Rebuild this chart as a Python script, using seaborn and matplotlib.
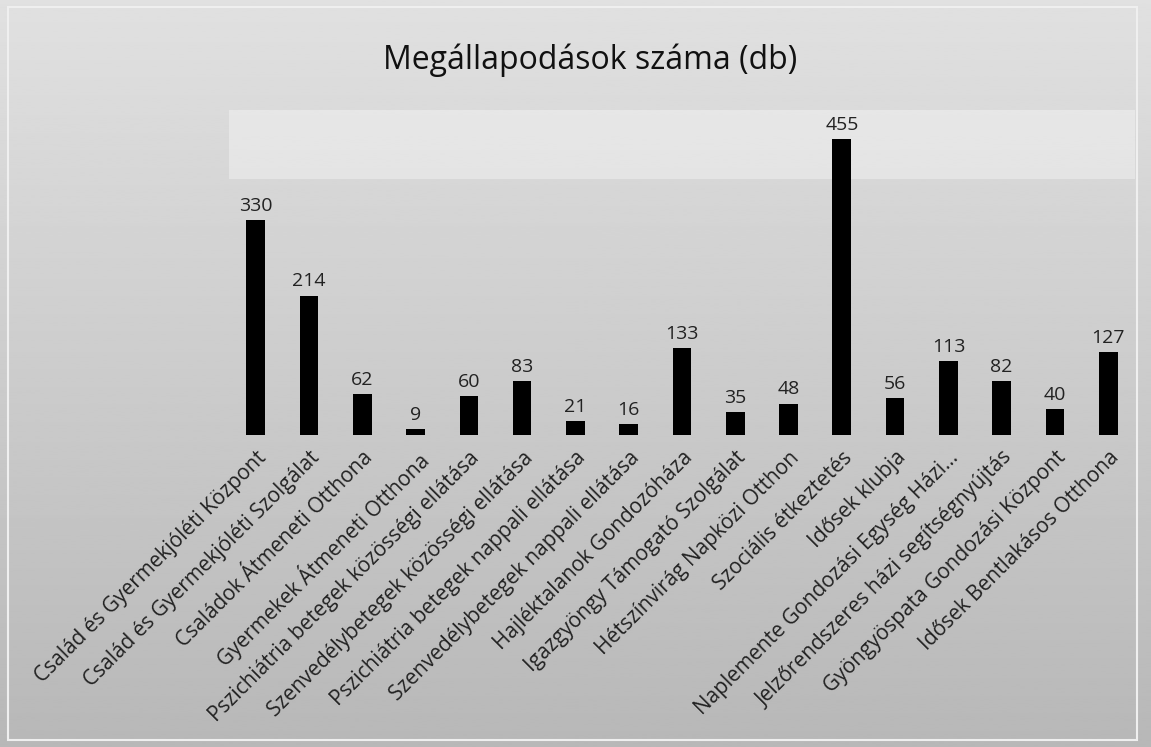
import numpy as np
import pandas as pd
import matplotlib
matplotlib.use('Agg')
import matplotlib.pyplot as plt
import seaborn as sns

# data
categories = ['Család és Gyermekjóléti Központ', 'Család és Gyermekjóléti Szolgálat',
              'Családok Átmeneti Otthona', 'Gyermekek Átmeneti Otthona',
              'Pszichiátria betegek közösségi ellátása', 'Szenvedélybetegek közösségi ellátása',
              'Pszichiátria betegek nappali ellátása', 'Szenvedélybetegek nappali ellátása',
              'Hajléktalanok Gondozóháza', 'Igazgyöngy Támogató Szolgálat',
              'Hétszínvirág Napközi Otthon', 'Szociális étkeztetés', 'Idősek klubja',
              'Naplemente Gondozási Egység Házi…', 'Jelzőrendszeres házi segítségnyújtás',
              'Gyöngyöspata Gondozási Központ', 'Idősek Bentlakásos Otthona']
values = [330, 214, 62, 9, 60, 83, 21, 16, 133, 35, 48, 455, 56, 113, 82, 40, 127]
title = 'Megállapodások száma (db)'

df = pd.DataFrame({'cat': categories, 'db': values})

sns.set_theme(style='white')
plt.rcParams['font.family'] = ['Open Sans', 'DejaVu Sans']

fig = plt.figure(figsize=(11.51, 7.47), dpi=100, facecolor='#c4c4c4')

# soft grey gradient behind everything, like the scanned page
bg = fig.add_axes([0, 0, 1, 1], zorder=0)
grad = np.linspace(0.88, 0.72, 256).reshape(-1, 1)
bg.imshow(grad, cmap='gray', vmin=0, vmax=1, aspect='auto', extent=[0, 1, 0, 1])
bg.set_xlim(0, 1)
bg.set_ylim(0, 1)
bg.axis('off')
bg.add_patch(plt.Rectangle((0.007, 0.009), 0.981, 0.981, fill=False, ec='#efefef', lw=1.5))
# lighter band at the top of the plot area
bg.add_patch(plt.Rectangle((0.199, 0.76), 0.787, 0.093, color='white', alpha=0.35, lw=0))

ax = fig.add_axes([0.199, 0.418, 0.787, 0.435], zorder=1)
ax.patch.set_alpha(0)
sns.barplot(data=df, x='cat', y='db', color='black', width=0.35, ax=ax,
            saturation=1, edgecolor='black', linewidth=0)

for p, v in zip(ax.patches, values):
    ax.text(p.get_x() + p.get_width() / 2, v + 8, str(v), ha='center', va='bottom',
            fontsize=14, color='#222222')

ax.set_ylim(0, 500)
ax.set_xlim(-0.5, len(categories) - 0.5)
ax.set_yticks([])
ax.set_xlabel('')
ax.set_ylabel('')
sns.despine(ax=ax, left=True, bottom=True)
ax.tick_params(axis='x', length=0, pad=9)
ax.set_xticks(range(len(categories)))
ax.set_xticklabels(categories, rotation=45, ha='right', rotation_mode='anchor',
                   fontsize=15, color='#222222')

fig.text(0.513, 0.92, title, ha='center', va='center', fontsize=23, color='#111111')

fig.savefig('out.png', dpi=100, facecolor=fig.get_facecolor())
